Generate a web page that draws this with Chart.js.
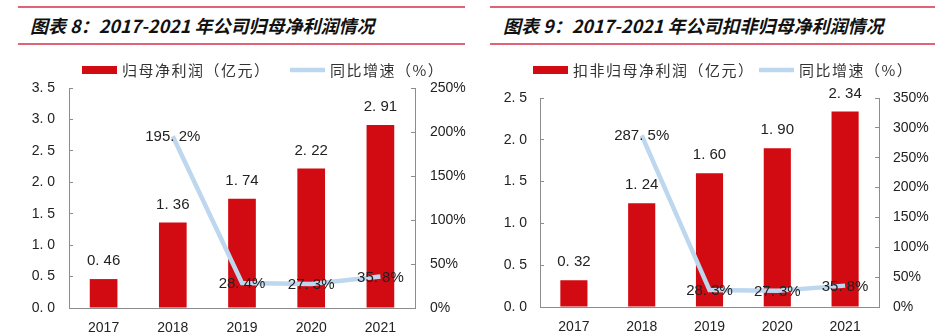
<!DOCTYPE html>
<html>
<head>
<meta charset="utf-8">
<script src="https://cdn.jsdelivr.net/npm/chart.js@4.4.0/dist/chart.umd.min.js"></script>
<style>
  body { margin: 0; width: 939px; height: 336px; background: #fff; position: relative; overflow: hidden; }
  .title { position: absolute; top: 6px; height: 35px; border-top: 2px solid #e06478; border-bottom: 2px solid #e06478;
           font-family: "Noto Sans CJK SC", sans-serif; font-weight: bold; font-style: italic; font-size: 18px;
           line-height: 35px; color: #111; box-sizing: border-box; height: 39px; }
  .box { position: absolute; top: 52px; width: 469px; height: 284px; }
</style>
</head>
<body>
<div class="title" style="left:18px;width:447px;padding-left:12px;">图表 8：2017-2021 年公司归母净利润情况</div>
<div class="title" style="left:490px;width:445px;padding-left:13px;">图表 9：2017-2021 年公司扣非归母净利润情况</div>
<div class="box" style="left:0"><canvas id="chart-left"></canvas></div>
<div class="box" style="left:470px"><canvas id="chart-right"></canvas></div>
<script>
// data
const years = ['2017', '2018', '2019', '2020', '2021']
const netProfit = [0.46, 1.36, 1.74, 2.22, 2.91]
const netProfitYoy = [null, 195.2, 28.4, 27.3, 35.8]
const deductedProfit = [0.32, 1.24, 1.60, 1.90, 2.34]
const deductedProfitYoy = [null, 287.5, 28.3, 27.3, 35.8]

const barColor = '#d20a11'
const lineColor = '#bdd7ee'
const axisColor = '#8c8c8c'
const numFont = '"Liberation Sans", "Noto Sans CJK SC", sans-serif'

// "3.5" -> "3. 5" like the original report font
function spaced(v, d) {
    return v.toFixed(d).replace('.', '. ')
}

const valueLabels = {
    id: 'valueLabels',
    afterDatasetsDraw(chart) {
        const ctx = chart.ctx
        ctx.save()
        ctx.font = '15px ' + numFont
        ctx.textAlign = 'center'
        ctx.textBaseline = 'middle'
        ctx.fillStyle = '#222'
        chart.data.datasets.forEach((ds, i) => {
            const meta = chart.getDatasetMeta(i)
            meta.data.forEach((el, j) => {
                const v = ds.data[j]
                if (v == null) return
                if (ds.type === 'bar') {
                    ctx.fillText(spaced(v, 2), el.x, el.y - 18)
                } else {
                    ctx.fillText(spaced(v, 1) + '%', el.x, el.y + 1)
                }
            })
        })
        ctx.restore()
    }
}

const legendDraw = {
    id: 'legendDraw',
    afterDraw(chart, args, opts) {
        const ctx = chart.ctx
        ctx.save()
        ctx.font = '15px "Noto Sans CJK SC", sans-serif'
        ctx.letterSpacing = '1.5px'
        ctx.textBaseline = 'middle'
        chart.data.datasets.forEach((ds, i) => {
            const x = opts.xs[i]
            const y = opts.y
            if (ds.type === 'bar') {
                ctx.fillStyle = ds.backgroundColor
                ctx.fillRect(x, y - 4, 35, 8)
            } else {
                ctx.strokeStyle = ds.borderColor
                ctx.lineWidth = 4.5
                ctx.beginPath()
                ctx.moveTo(x, y)
                ctx.lineTo(x + 35, y)
                ctx.stroke()
            }
            ctx.fillStyle = '#333'
            ctx.fillText(ds.label, x + 40, y)
        })
        ctx.restore()
    }
}

function makeChart(id, barLabel, bars, yoy, s) {
    const ctx = document.getElementById(id).getContext('2d')
    return new Chart(ctx, {
        data: {
            labels: years,
            datasets: [
                {
                    type: 'bar',
                    label: barLabel,
                    data: bars,
                    yAxisID: 'y',
                    backgroundColor: barColor,
                    barPercentage: 0.4,
                    categoryPercentage: 1,
                    order: 1
                },
                {
                    type: 'line',
                    label: '同比增速（%）',
                    data: yoy,
                    yAxisID: 'y1',
                    borderColor: lineColor,
                    backgroundColor: lineColor,
                    borderWidth: 4.5,
                    pointRadius: 0,
                    tension: 0,
                    order: 0
                }
            ]
        },
        options: {
            responsive: true,
            maintainAspectRatio: false,
            animation: false,
            layout: { padding: { top: s.top, left: 0, right: 0, bottom: 0 } },
            plugins: {
                legend: { display: false },
                tooltip: { enabled: false },
                legendDraw: { xs: s.legendXs, y: 18 }
            },
            scales: {
                x: {
                    grid: { display: false },
                    border: { color: axisColor, width: 1 },
                    ticks: { color: '#222', padding: 4, font: { family: numFont, size: 14 } },
                    afterFit(scale) { scale.height = s.xHeight }
                },
                y: {
                    position: 'left',
                    min: 0, max: s.yMax,
                    grid: { drawOnChartArea: false, tickLength: -4, color: axisColor },
                    border: { color: axisColor, width: 1 },
                    ticks: { stepSize: 0.5, color: '#222', padding: s.yPad, font: { family: numFont, size: 14 },
                             callback: v => spaced(v, 1) },
                    afterFit(scale) { scale.width = s.yWidth }
                },
                y1: {
                    position: 'right',
                    min: 0, max: s.y1Max,
                    grid: { drawOnChartArea: false, tickLength: -4, color: axisColor },
                    border: { color: axisColor, width: 1 },
                    ticks: { stepSize: 50, color: '#222', padding: s.y1Pad, font: { family: numFont, size: 14 },
                             callback: v => v + '%' },
                    afterFit(scale) { scale.width = s.y1Width }
                }
            }
        },
        plugins: [valueLabels, legendDraw]
    })
}

makeChart('chart-left', '归母净利润（亿元）', netProfit, netProfitYoy,
    { top: 36, xHeight: 28, yWidth: 69, y1Width: 54, yMax: 3.5, y1Max: 250, yPad: 18, y1Pad: 19, legendXs: [82, 290] })
makeChart('chart-right', '扣非归母净利润（亿元）', deductedProfit, deductedProfitYoy,
    { top: 46, xHeight: 29, yWidth: 70, y1Width: 60, yMax: 2.5, y1Max: 350, yPad: 17, y1Pad: 18, legendXs: [63, 289] })
</script>
</body>
</html>
